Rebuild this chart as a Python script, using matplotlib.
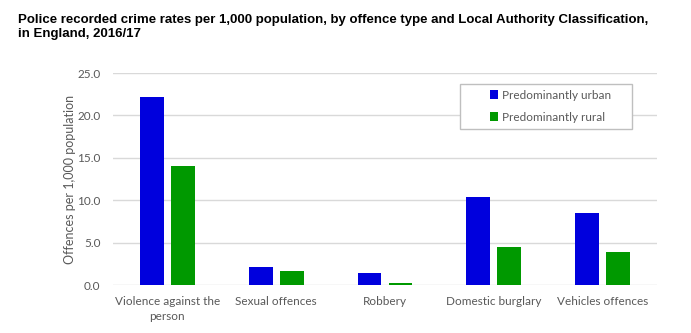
import matplotlib
matplotlib.use("Agg")
import matplotlib.pyplot as plt
from matplotlib.patches import Rectangle
import numpy as np

categories = ["Violence against the\nperson", "Sexual offences", "Robbery", "Domestic burglary", "Vehicles offences"]
urban = [22.2, 2.1, 1.4, 10.4, 8.5]
rural = [14.0, 1.65, 0.25, 4.5, 3.9]
yticks = [0, 5, 10, 15, 20, 25]

W, H = 691, 333
fig = plt.figure(figsize=(W/100, H/100), dpi=100)
ax = fig.add_axes([113/W, 1-285/H, (657-113)/W, (285-73)/H])

x = np.arange(len(categories))
w = 0.22
gap = 0.065
ax.bar(x - (w+gap)/2, urban, w, color="#0000DD", label="Predominantly urban", zorder=3)
ax.bar(x + (w+gap)/2, rural, w, color="#009900", label="Predominantly rural", zorder=3)

font = "Lato"
ax.set_xlim(-0.5, len(categories)-0.5)
ax.set_ylim(0, 25)
ax.set_yticks(yticks)
ax.set_yticklabels([f"{v:.1f}" for v in yticks], fontfamily=font, fontsize=8.5, color="#595959")
ax.set_xticks(x)
ax.set_xticklabels(categories, fontfamily=font, fontsize=8.5, color="#595959", linespacing=1.4)
ax.tick_params(axis="y", length=0, pad=9)
ax.tick_params(axis="x", length=0, pad=8)
ax.grid(axis="y", color="#d9d9d9", linewidth=1, zorder=0)
for s in ax.spines.values():
    s.set_visible(False)
ax.set_ylabel("Offences per 1,000 population", fontfamily=font, fontsize=9, color="#595959", labelpad=1)

# legend frame
fig.patches.append(Rectangle((460/W, 1-129/H), (632-460)/W, (129-84)/H, transform=fig.transFigure,
                             facecolor="white", edgecolor="#bfbfbf", linewidth=1, zorder=4))
leg = fig.legend(loc="upper left", bbox_to_anchor=(486/W, 1-86/H), prop={"family": font, "size": 8.5},
                 frameon=False, handlelength=0.75, handleheight=0.75,
                 handletextpad=0.3, borderpad=0.3, labelspacing=0.95, borderaxespad=0)
leg.set_zorder(5)
for t in leg.get_texts():
    t.set_color("#595959")

fig.text(18/W, 1-27/H, "Police recorded crime rates per 1,000 population, by offence type and Local Authority Classification,\nin England, 2016/17",
         fontfamily="Liberation Sans", fontweight="bold", fontsize=9.5, va="center", ha="left", linespacing=1.25)

fig.savefig("out.png", dpi=100)
